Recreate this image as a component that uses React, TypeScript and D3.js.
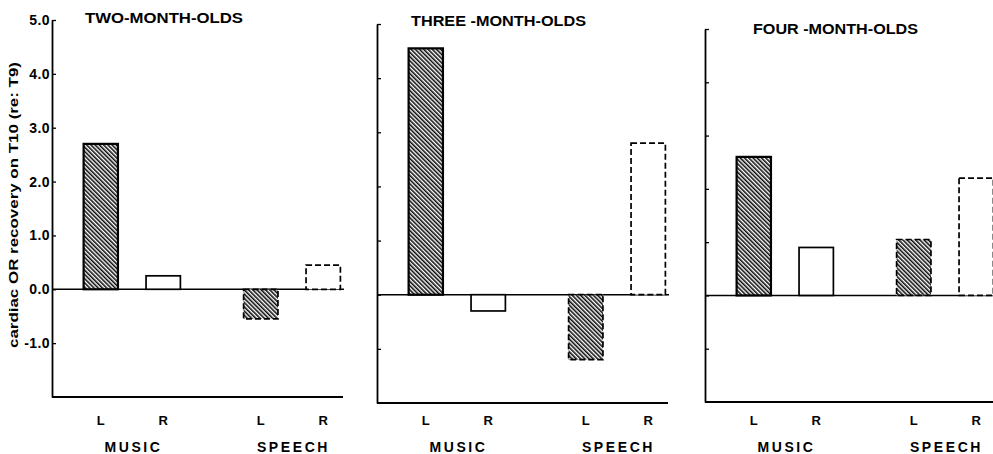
import React, { useEffect, useRef } from "react";
import * as d3 from "d3";

const ages = ["TWO-MONTH-OLDS", "THREE -MONTH-OLDS", "FOUR -MONTH-OLDS"];
const groups = ["MUSIC", "SPEECH"];
const ears = ["L", "R"];
// cardiac OR recovery, one value per age panel
const musicL = [2.7, 4.55, 2.6];
const musicR = [0.25, -0.3, 0.9];
const speechL = [-0.55, -1.2, 1.05];
const speechR = [0.45, 2.8, 2.2];
const yTicks = [-1, 0, 1, 2, 3, 4, 5];
const yLabel = "cardiac OR recovery on T10 (re: T9)";

// the three panels sit a little differently on the scanned page
const panels = [
  { x0: 52, top: 20, bottom: 397, titleX: 85, titleY: 23, titleW: 158 },
  { x0: 377, top: 24, bottom: 403, titleX: 411, titleY: 26, titleW: 175 },
  { x0: 705, top: 29, bottom: 402, titleX: 753, titleY: 34, titleW: 165 },
];

const font = "'Liberation Sans', Arial, Helvetica, sans-serif";

export default function App() {
  const ref = useRef<SVGSVGElement>(null);

  useEffect(() => {
    const svg = d3.select(ref.current);
    svg.selectAll("*").remove();

    // diagonal hatching for the left-ear bars
    const pat = svg.append("defs").append("pattern")
      .attr("id", "hatch")
      .attr("patternUnits", "userSpaceOnUse")
      .attr("width", 3)
      .attr("height", 3)
      .attr("patternTransform", "rotate(-45)");
    pat.append("rect").attr("width", 3).attr("height", 3).attr("fill", "#fff");
    pat.append("line")
      .attr("x1", 0.8).attr("x2", 0.8).attr("y1", 0).attr("y2", 3)
      .attr("stroke", "#000").attr("stroke-width", 1.5);

    panels.forEach((p, i) => {
      const y = d3.scaleLinear().domain([-2, 5]).range([p.bottom, p.top]);
      const outer = d3.scaleBand().domain(groups)
        .range([p.x0, p.x0 + 320]).paddingInner(0.2).paddingOuter(0.1);
      const inner = d3.scaleBand().domain(ears)
        .range([0, outer.bandwidth()]).paddingInner(0.45).paddingOuter(0.25);

      const rows = [
        { group: "MUSIC", ear: "L", v: musicL[i] },
        { group: "MUSIC", ear: "R", v: musicR[i] },
        { group: "SPEECH", ear: "L", v: speechL[i] },
        { group: "SPEECH", ear: "R", v: speechR[i] },
      ];

      const g = svg.append("g");

      // zero line
      g.append("line")
        .attr("x1", p.x0).attr("x2", p.x0 + 292)
        .attr("y1", y(0)).attr("y2", y(0))
        .attr("stroke", "#000").attr("stroke-width", 1.6);

      // bars
      g.selectAll("rect.bar")
        .data(rows)
        .join("rect")
        .attr("class", "bar")
        .attr("x", d => (outer(d.group) as number) + (inner(d.ear) as number))
        .attr("y", d => y(Math.max(0, d.v)))
        .attr("width", inner.bandwidth())
        .attr("height", d => Math.abs(y(d.v) - y(0)))
        .attr("fill", d => d.ear === "L" ? "url(#hatch)" : "#fff")
        .attr("stroke", "#000")
        .attr("stroke-width", d => d.ear === "L" && d.group === "MUSIC" ? 2.2 : 1.7)
        .attr("stroke-dasharray", d => d.group === "SPEECH" ? "6,3" : null);

      // y axis, ticks pointing inward
      const axis = d3.axisLeft(y)
        .tickValues(yTicks)
        .tickSizeInner(-4)
        .tickSizeOuter(0)
        .tickPadding(2)
        .tickFormat(d => i === 0 ? (d as number).toFixed(1) : "");
      const ax = g.append("g").attr("transform", "translate(" + p.x0 + ",0)").call(axis);
      ax.select(".domain").attr("stroke-width", 1.8);
      ax.selectAll(".tick line").attr("stroke-width", 1.3);
      ax.selectAll(".tick text")
        .attr("font-family", font)
        .attr("font-weight", "bold")
        .attr("font-size", 14)
        .attr("letter-spacing", 0.4)
        .attr("fill", "#000");

      // bottom line
      g.append("line")
        .attr("x1", p.x0).attr("x2", p.x0 + 291)
        .attr("y1", p.bottom).attr("y2", p.bottom)
        .attr("stroke", "#000").attr("stroke-width", 1.8);

      // panel title
      g.append("text")
        .attr("x", p.titleX).attr("y", p.titleY)
        .attr("textLength", p.titleW)
        .attr("lengthAdjust", "spacingAndGlyphs")
        .attr("font-family", font).attr("font-weight", "bold").attr("font-size", 14.5)
        .text(ages[i]);

      // L / R labels
      groups.forEach(gr => {
        ears.forEach(e => {
          g.append("text")
            .attr("x", (outer(gr) as number) + (inner(e) as number) + inner.bandwidth() / 2)
            .attr("y", 425)
            .attr("text-anchor", "middle")
            .attr("font-family", font).attr("font-weight", "bold").attr("font-size", 13)
            .text(e);
        });
        g.append("text")
          .attr("x", (outer(gr) as number) + outer.bandwidth() / 2 + 1.5)
          .attr("y", 452)
          .attr("text-anchor", "middle")
          .attr("letter-spacing", 2.6)
          .attr("font-family", font).attr("font-weight", "bold").attr("font-size", 14)
          .text(gr);
      });
    });

    // y axis title
    svg.append("text")
      .attr("transform", "translate(13,205) rotate(-90)")
      .attr("text-anchor", "middle")
      .attr("dominant-baseline", "central")
      .attr("textLength", 286)
      .attr("lengthAdjust", "spacingAndGlyphs")
      .attr("font-family", font).attr("font-weight", "bold").attr("font-size", 13.5)
      .text(yLabel);
  }, []);

  return (
    <svg
      ref={ref}
      width={993}
      height={454}
      style={{ position: "absolute", left: 0, top: 0, background: "#fff" }}
    />
  );
}
